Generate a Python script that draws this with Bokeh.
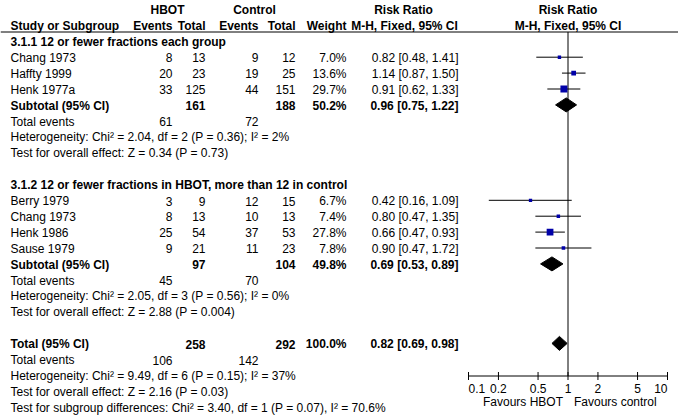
import math
from bokeh.plotting import figure
from bokeh.models import ColumnDataSource, Range1d, LogScale, Span
from bokeh.embed import file_html
from bokeh.resources import INLINE
from bokeh.core.properties import value

FONT = "Liberation Sans"
FS = "12px"

# ---------------- data ----------------
group_labels = ["3.1.1 12 or fewer fractions each group",
                "3.1.2 12 or fewer fractions in HBOT, more than 12 in control"]

g1_studies = ["Chang 1973", "Haffty 1999", "Henk 1977a"]
g1_hbot_events = [8, 20, 33]
g1_hbot_total = [13, 23, 125]
g1_ctrl_events = [9, 19, 44]
g1_ctrl_total = [12, 25, 151]
g1_weight = [7.0, 13.6, 29.7]
g1_rr = [0.82, 1.14, 0.91]
g1_lo = [0.48, 0.87, 0.62]
g1_hi = [1.41, 1.50, 1.33]

g2_studies = ["Berry 1979", "Chang 1973", "Henk 1986", "Sause 1979"]
g2_hbot_events = [3, 8, 25, 9]
g2_hbot_total = [9, 13, 54, 21]
g2_ctrl_events = [12, 10, 37, 11]
g2_ctrl_total = [15, 13, 53, 23]
g2_weight = [6.7, 7.4, 27.8, 7.8]
g2_rr = [0.42, 0.80, 0.66, 0.90]
g2_lo = [0.16, 0.47, 0.47, 0.47]
g2_hi = [1.09, 1.35, 0.93, 1.72]

sub_hbot_total = [161, 97]
sub_ctrl_total = [188, 104]
sub_weight = [50.2, 49.8]
sub_rr = [0.96, 0.69]
sub_lo = [0.75, 0.53]
sub_hi = [1.22, 0.89]
sub_hbot_events = [61, 45]
sub_ctrl_events = [72, 70]
sub_het = ["Heterogeneity: Chi\u00b2 = 2.04, df = 2 (P = 0.36); I\u00b2 = 2%",
           "Heterogeneity: Chi\u00b2 = 2.05, df = 3 (P = 0.56); I\u00b2 = 0%"]
sub_test = ["Test for overall effect: Z = 0.34 (P = 0.73)",
            "Test for overall effect: Z = 2.88 (P = 0.004)"]

total_hbot_total = 258
total_ctrl_total = 292
total_weight = 100.0
total_rr = 0.82
total_lo = 0.69
total_hi = 0.98
total_hbot_events = 106
total_ctrl_events = 142
total_het = "Heterogeneity: Chi\u00b2 = 9.49, df = 6 (P = 0.15); I\u00b2 = 37%"
total_test = "Test for overall effect: Z = 2.16 (P = 0.03)"
subgroup_test = "Test for subgroup differences: Chi\u00b2 = 3.40, df = 1 (P = 0.07), I\u00b2 = 70.6%"

axis_ticks = [0.1, 0.2, 0.5, 1, 2, 5, 10]
axis_tick_labels = ["0.1", "0.2", "0.5", "1", "2", "5", "10"]
favours_left = "Favours HBOT"
favours_right = "Favours control"
null_value = 1

# ---------------- layout (reference pixel coordinates) ----------------
COL = {"label": 10, "he": 172, "ht": 205, "ce": 258, "ct": 295, "w": 346, "rr": 458}
ROW0, ROWH = 41.5, 15.9
W, H = 678, 416
ONE_PX, DEC_PX = 567.5, 99.5
AXIS_Y = 375.5
HEAD_LINE_Y = 31.5

texts = {}


def put(x, y, t, align="left", bold=False):
    d = texts.setdefault((align, bold), {"x": [], "y": [], "t": []})
    d["x"].append(x)
    d["y"].append(y)
    d["t"].append(str(t))


def ry(i):
    return ROW0 + ROWH * i


def fmt_rr(r, l, h):
    return f"{r:.2f} [{l:.2f}, {h:.2f}]"


sq = {"x": [], "y": [], "s": []}
wh = {"x0": [], "x1": [], "y": []}
dia = {"xs": [], "ys": []}
DH = 7
MK = 0.7

groups = [
    (g1_studies, g1_hbot_events, g1_hbot_total, g1_ctrl_events, g1_ctrl_total, g1_weight, g1_rr, g1_lo, g1_hi),
    (g2_studies, g2_hbot_events, g2_hbot_total, g2_ctrl_events, g2_ctrl_total, g2_weight, g2_rr, g2_lo, g2_hi),
]

r = 0
for gi, (names, he, ht, ce, ct, w, rr, lo, hi) in enumerate(groups):
    put(COL["label"], ry(r), group_labels[gi], bold=True)
    r += 1
    for k in range(len(names)):
        y = ry(r)
        put(COL["label"], y, names[k])
        put(COL["he"], y, he[k], "right")
        put(COL["ht"], y, ht[k], "right")
        put(COL["ce"], y, ce[k], "right")
        put(COL["ct"], y, ct[k], "right")
        put(COL["w"], y, f"{w[k]:.1f}%", "right")
        put(COL["rr"], y, fmt_rr(rr[k], lo[k], hi[k]), "right")
        sq["x"].append(rr[k]); sq["y"].append(y - MK); sq["s"].append(1.28 * math.sqrt(w[k]))
        wh["x0"].append(lo[k]); wh["x1"].append(hi[k]); wh["y"].append(y - MK)
        r += 1
    y = ry(r)
    put(COL["label"], y, "Subtotal (95% CI)", bold=True)
    put(COL["ht"], y, sub_hbot_total[gi], "right", True)
    put(COL["ct"], y, sub_ctrl_total[gi], "right", True)
    put(COL["w"], y, f"{sub_weight[gi]:.1f}%", "right", True)
    put(COL["rr"], y, fmt_rr(sub_rr[gi], sub_lo[gi], sub_hi[gi]), "right", True)
    yc = y - MK
    dia["xs"].append([sub_lo[gi], sub_rr[gi], sub_hi[gi], sub_rr[gi]])
    dia["ys"].append([yc, yc - DH, yc, yc + DH])
    r += 1
    y = ry(r)
    put(COL["label"], y, "Total events")
    put(COL["he"], y, sub_hbot_events[gi], "right")
    put(COL["ce"], y, sub_ctrl_events[gi], "right")
    r += 1
    put(COL["label"], ry(r), sub_het[gi]); r += 1
    put(COL["label"], ry(r), sub_test[gi]); r += 1
    r += 1

y = ry(r)
put(COL["label"], y, "Total (95% CI)", bold=True)
put(COL["ht"], y, total_hbot_total, "right", True)
put(COL["ct"], y, total_ctrl_total, "right", True)
put(COL["w"], y, f"{total_weight:.1f}%", "right", True)
put(COL["rr"], y, fmt_rr(total_rr, total_lo, total_hi), "right", True)
yc = y - MK
dia["xs"].append([total_lo, total_rr, total_hi, total_rr])
dia["ys"].append([yc, yc - DH, yc, yc + DH])
r += 1
y = ry(r)
put(COL["label"], y, "Total events")
put(COL["he"], y, total_hbot_events, "right")
put(COL["ce"], y, total_ctrl_events, "right")
r += 1
put(COL["label"], ry(r), total_het); r += 1
put(COL["label"], ry(r), total_test); r += 1
put(COL["label"], ry(r), subgroup_test); r += 1

# header rows
HY1, HY2 = 9, 25
put(167, HY1, "HBOT", "center", True)
put(254, HY1, "Control", "center", True)
put(403, HY1, "Risk Ratio", "center", True)
put(COL["label"], HY2, "Study or Subgroup", bold=True)
put(COL["he"], HY2, "Events", "right", True)
put(COL["ht"], HY2, "Total", "right", True)
put(COL["ce"], HY2, "Events", "right", True)
put(COL["ct"], HY2, "Total", "right", True)
put(COL["w"], HY2, "Weight", "right", True)
put(404, HY2, "M-H, Fixed, 95% CI", "center", True)

# ---------------- figure ----------------
rr_range = Range1d(10 ** ((0 - ONE_PX) / DEC_PX), 10 ** ((W - ONE_PX) / DEC_PX))
p = figure(width=W, height=H, x_range=Range1d(0, W), y_range=Range1d(H, 0),
           extra_x_ranges={"rr": rr_range}, extra_x_scales={"rr": LogScale()},
           output_backend="svg", toolbar_location=None, x_axis_location=None, y_axis_location=None,
           title=None, min_border=0)
p.xgrid.grid_line_color = None
p.ygrid.grid_line_color = None
p.outline_line_color = None
p.background_fill_color = "white"
p.border_fill_color = "white"

for (align, bold), d in texts.items():
    p.text(x="x", y="y", text="t", source=ColumnDataSource(d), text_align=align,
           text_baseline="middle", text_font=value(FONT), text_font_size=value(FS),
           text_font_style="bold" if bold else "normal", text_color="black")

# header rule
p.add_layout(Span(location=HEAD_LINE_Y, dimension="width", line_color="black", line_width=1))

# forest panel
tf = dict(x_range_name="rr")
p.segment(x0=[null_value], y0=[HEAD_LINE_Y], x1=[null_value], y1=[AXIS_Y], line_color="black", line_width=1, **tf)
p.segment(x0="x0", y0="y", x1="x1", y1="y", source=ColumnDataSource(wh), line_color="black", line_width=1, **tf)
p.scatter(x="x", y="y", size="s", marker="square", source=ColumnDataSource(sq),
          fill_color="#0000a8", line_color=None, **tf)
p.patches(xs="xs", ys="ys", source=ColumnDataSource(dia), fill_color="black", line_color="black", **tf)
p.text(x=[null_value, null_value], y=[HY1, HY2], text=["Risk Ratio", "M-H, Fixed, 95% CI"], text_align="center",
       text_baseline="middle", text_font=value(FONT), text_font_size=value(FS),
       text_font_style="bold", text_color="black", **tf)

# log axis of the forest panel
TICK_HALF = 4
p.segment(x0=[axis_ticks[0]], y0=[AXIS_Y], x1=[axis_ticks[-1]], y1=[AXIS_Y], line_color="black", line_width=1, **tf)
p.segment(x0=axis_ticks, y0=[AXIS_Y - TICK_HALF] * len(axis_ticks), x1=axis_ticks,
          y1=[AXIS_Y + TICK_HALF] * len(axis_ticks), line_color="black", line_width=1, **tf)
LAB_Y = 387.5
n = len(axis_ticks)
for idx, align in [([0], "left"), (list(range(1, n - 1)), "center"), ([n - 1], "right")]:
    p.text(x=[axis_ticks[i] for i in idx], y=[LAB_Y] * len(idx), text=[axis_tick_labels[i] for i in idx],
           text_align=align, text_baseline="middle", text_font=value(FONT), text_font_size=value(FS),
           text_color="black", **tf)
FAV_Y = 401.5
p.text(x=[null_value], y=[FAV_Y], text=[favours_left], text_align="right", x_offset=-5,
       text_baseline="middle", text_font=value(FONT), text_font_size=value(FS), text_color="black", **tf)
p.text(x=[null_value], y=[FAV_Y], text=[favours_right], text_align="left", x_offset=6,
       text_baseline="middle", text_font=value(FONT), text_font_size=value(FS), text_color="black", **tf)

open("out.html", "w").write(file_html(p, INLINE))
